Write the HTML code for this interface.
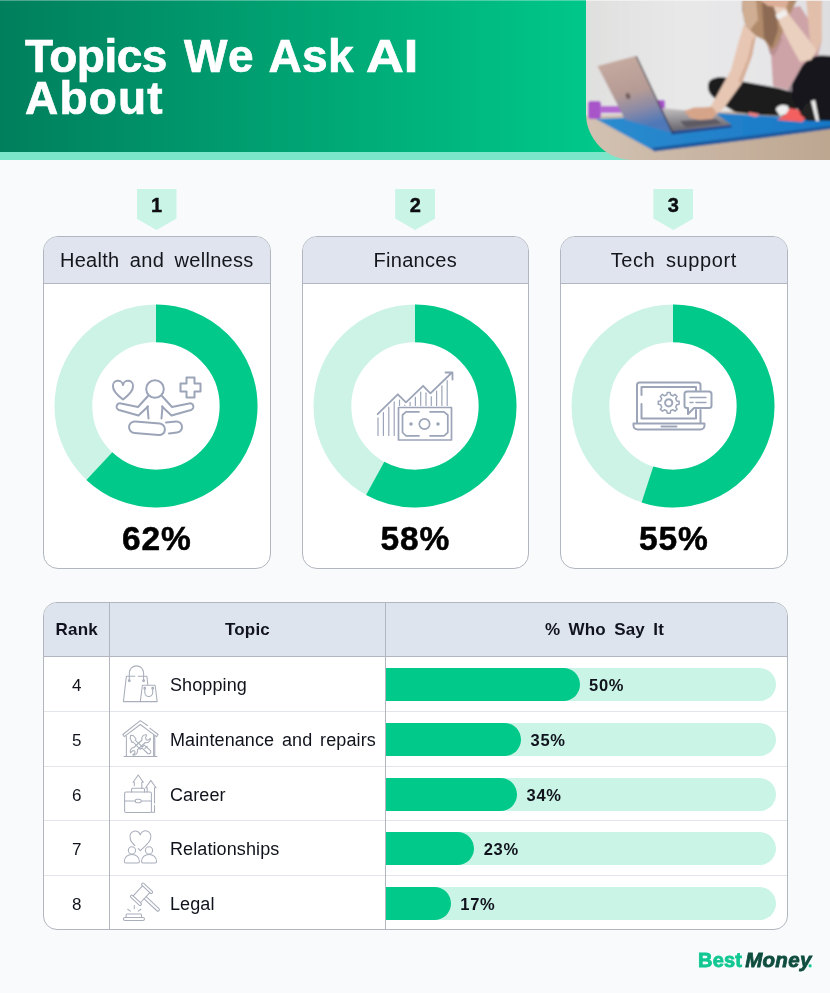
<!DOCTYPE html>
<html lang="en">
<head>
<meta charset="utf-8">
<title>Topics We Ask AI About</title>
<style>
*{box-sizing:border-box;margin:0;padding:0}
html,body{width:830px;height:993px;overflow:hidden}
body{background:#f8fafb;font-family:"Liberation Sans",sans-serif;color:#111;position:relative}
.hdr{position:absolute;left:0;top:0;width:830px;height:160px;background:#7be6c9}
.hdr .g{position:absolute;left:0;top:0;width:830px;height:152px;background:linear-gradient(90deg,#007f5d 0,#00c98a 600px)}
.hdr h1{position:absolute;left:0;top:30px;font-size:46px;line-height:52px;font-weight:700;color:#fff}
.hdr h1 span{position:absolute;white-space:nowrap;-webkit-text-stroke:0.7px #fff}
.photo{position:absolute;left:585px;top:0;width:245px;height:160px}
.tag{position:absolute;top:189px;width:40px;height:41px;background:#c9f4e6;clip-path:polygon(0 0,100% 0,100% 72%,50% 100%,0 72%);font-weight:700;font-size:20px;text-align:center;line-height:33px;color:#0d0d12;-webkit-text-stroke:0.4px #0d0d12}
.card{position:absolute;top:235.5px;width:227.5px;height:333px;background:#fff;border:1px solid #b1b6c0;border-radius:15px;overflow:hidden}
.card .ch{height:47px;background:#dfe4ee;border-bottom:1px solid #b1b6c0;text-align:center;font-size:20px;line-height:46px;color:#15151c;word-spacing:4.5px;letter-spacing:0.3px}
.card svg.d{position:absolute;left:10.4px;top:67.8px}
.card .pct{position:absolute;left:0;width:100%;top:284px;text-align:center;font-weight:700;font-size:33.5px;line-height:36px;letter-spacing:0.8px;color:#000;-webkit-text-stroke:0.5px #000}
.tbl{position:absolute;left:42.500px;top:602px;width:745.500px;height:328px;background:#fff;border:1px solid #b1b6c0;border-radius:14px;overflow:hidden}
.tbl .th{position:absolute;left:0;top:0;width:100%;height:54px;background:#dee4ee;border-bottom:1px solid #b1b6c0}
.tbl .th div{position:absolute;top:0;height:53px;line-height:53px;font-weight:700;font-size:17px;text-align:center;color:#10131c;letter-spacing:0.2px}
.tbl .v{position:absolute;top:0;width:1px;height:100%;background:#b1b6c0}
.row{position:absolute;left:0;width:100%;height:55px;border-top:1px solid #e2e5ea}
.row:nth-of-type(2){border-top-color:transparent}
.row .n{position:absolute;left:0;width:66.500px;text-align:center;line-height:57px;font-size:17px;color:#10131c}
.row .ic{position:absolute;left:78px;top:7px;width:40px;height:40px}
.row .t{position:absolute;left:126.500px;line-height:56px;font-size:18px;color:#10131c;white-space:nowrap;word-spacing:2.7px;letter-spacing:0.1px}
.row .bar{position:absolute;left:341.500px;top:10.500px;width:390.500px;height:33.500px;background:#c9f4e6;border-radius:0 17px 17px 0}
.row .bar i{position:absolute;left:0;top:0;height:100%;background:#00c98a;border-radius:0 17px 17px 0}
.row .bar b{position:absolute;top:0;line-height:34.500px;font-size:16.500px;font-weight:700;color:#10131c;letter-spacing:0.7px;margin-left:-2px}
.ov{position:absolute;left:0;top:0;pointer-events:none}
.logo{position:absolute;left:698px;top:945px;height:30px;line-height:30px;font-size:20px;font-weight:700;white-space:nowrap}
.logo .b{color:#12c792;-webkit-text-stroke:0.8px #12c792;letter-spacing:0.2px}
.logo .m{color:#0f4d3f;-webkit-text-stroke:0.8px #0f4d3f;font-style:italic;margin-left:3px;letter-spacing:0.3px;font-size:20.5px}
.logo .p{color:#12c792;-webkit-text-stroke:0.5px #12c792;margin-left:-3.5px;font-size:15px}
</style>
</head>
<body>
<div class="hdr"><div class="g"></div><div style="position:absolute;left:0;top:0;width:830px;height:1px;background:rgba(255,255,255,.3)"></div><h1><span style="left:25px;top:0;letter-spacing:-0.5px">Topics</span><span style="left:184px;top:0;letter-spacing:1.5px">We</span><span style="left:268.5px;top:0;letter-spacing:0.3px">Ask</span><span style="left:365.5px;top:0;transform-origin:0 0;transform:scaleX(1.14)">AI</span><span style="left:25px;top:42px;letter-spacing:1.2px">About</span></h1></div>
<svg class="photo" width="245" height="160" viewBox="585 0 245 160">
<defs>
<clipPath id="pc"><path d="M586 0H830V160H632.500A46.500 46.500 0 0 1 586 113.500Z"/></clipPath>
<linearGradient id="wall" x1="0" y1="0" x2="1" y2="0"><stop offset="0" stop-color="#dfdfde"/><stop offset=".4" stop-color="#e8e8e9"/><stop offset=".75" stop-color="#e6e6e8"/><stop offset="1" stop-color="#dddddf"/></linearGradient>
<linearGradient id="floor" x1="0" y1="0" x2="1" y2="0"><stop offset="0" stop-color="#d3c2b3"/><stop offset="1" stop-color="#bda690"/></linearGradient>
<linearGradient id="lid" x1="0" y1="0" x2="0.25" y2="1"><stop offset="0" stop-color="#c9ada2"/><stop offset=".55" stop-color="#b59b95"/><stop offset=".78" stop-color="#8b8aa6"/><stop offset="1" stop-color="#4f78b8"/></linearGradient>
<linearGradient id="deck" x1="0" y1="0" x2="0.15" y2="1"><stop offset="0" stop-color="#c6c2c2"/><stop offset=".45" stop-color="#9a979c"/><stop offset="1" stop-color="#66636c"/></linearGradient>
<linearGradient id="mat" x1="0" y1="0" x2="1" y2="0"><stop offset="0" stop-color="#2c8ccf"/><stop offset="1" stop-color="#1877c6"/></linearGradient>
<filter id="bl" x="-5%" y="-5%" width="110%" height="110%"><feGaussianBlur stdDeviation="0.9"/></filter>
</defs>
<g clip-path="url(#pc)"><g filter="url(#bl)">
<rect x="580" y="-5" width="255" height="170" fill="url(#wall)"/>
<path d="M580 116L700 112L835 110V165H580Z" fill="url(#floor)"/>
<!-- dumbbell -->
<rect x="588" y="101" width="13" height="18" rx="3" fill="#a755c9"/>
<rect x="600" y="106" width="24" height="7" fill="#b466d2"/>
<rect x="656" y="100" width="9" height="15" rx="2" fill="#a755c9"/>
<!-- mat -->
<path d="M596 119L640 117L716 113L835 120V128L760 138L654 151Z" fill="url(#mat)"/>
<path d="M651 148L760 134.500L835 125V128.500L760 138.500L654.500 151.500Z" fill="#1a5a9e"/>
<!-- laptop base -->
<path d="M662 108L716 113.500L731.500 125L671 131.500Z" fill="url(#deck)"/>
<path d="M671 131.500L731.500 125V127.500L672 134.500Z" fill="#27498c"/>
<path d="M680 121L716 119L722 123.500L686 127.500Z" fill="#5d5a64"/>
<!-- laptop lid -->
<path d="M597.500 66L635.500 56L672 133L625 119.500Z" fill="url(#lid)"/>
<path d="M635.500 56L637 56.500L673.500 133.500L672 133Z" fill="#2e2a33"/>
<ellipse cx="628" cy="96" rx="2.200" ry="3.200" fill="#6f5d5a" transform="rotate(-15 628 96)"/>
<!-- top -->
<path d="M766 12L800 6L822 40L818 56L802 66L788 90L773 86L771 54L766 40Z" fill="#cda3a7"/>
<path d="M766 14L776 16L782 40L774 56L770 54L766 40Z" fill="#bb8f90"/>
<path d="M788 90L802 66L806 70L793 97Z" fill="#8c7f86"/>
<!-- legs -->
<path d="M709 82C712 77 722 76 730 79L745 82L778 88L792 92L800 105L790 116L760 115L735 112L722 104L712 96C708 92 707 86 709 82Z" fill="#1b1b1d"/>
<path d="M802 66C808 58 816 55 822 55.500L835 56V121L803 120L792 98L792 84Z" fill="#19191b"/>
<!-- left arm -->
<path d="M744 24L756 36L752 56L742 83L724 108L712 118L700 119L699 110L711 106L722 86L731 70L738 44Z" fill="#e7c6b3"/>
<path d="M752 40L756 36L752 56L742 83L738 82L748 58Z" fill="#d7ae98"/>
<path d="M684 111L694 107.500L712 107L717 113L712 119L700 120L690 118Z" fill="#d6a489"/>
<!-- hair -->
<path d="M742 -2H798L790 14L782 34L776 46L771 50L764 40L756 36L746 26L742 10Z" fill="#b08a6b"/>
<path d="M742 -2H756L758 20L750 30L744 22Z" fill="#cfae93"/>
<path d="M762 2L776 4L778 30L772 48L764 38Z" fill="#8d6b52"/>
<!-- right arm -->
<path d="M772 2L786 8L790 16L817 50L811 60L800 62L790 44L780 24Z" fill="#ead0bf"/>
<path d="M806 -2H822L822 40L817 52L810 40Z" fill="#e2bfab"/>
<path d="M757 -2H790L786 8L768 6Z" fill="#dcae97"/>
<rect x="776" y="12" width="11" height="6" rx="1.500" fill="#f1efee" transform="rotate(-28 781 15)"/>
<!-- shoes -->
<path d="M776 110C776 105 784 104 788 106L790 113L780 116Z" fill="#eeeeee"/>
<path d="M790 108L798 110L806 118L802 122L777 120L786 114Z" fill="#f4605f"/>
<path d="M806 104L816 100L820 121L808 121L800 114Z" fill="#222224"/>
<path d="M811 101L815 100L819 121L816 121Z" fill="#f2f2f2"/>
<path d="M749 112L760 114L756 117L748 115Z" fill="#f08080"/>
</g><rect x="586" y="0" width="245" height="1" fill="#f4f4f4" opacity=".8"/></g>
</svg>

<div class="tag" style="left:136.5px">1</div>
<div class="tag" style="left:395.2px">2</div>
<div class="tag" style="left:653.4px">3</div>

<div class="card" style="left:43px"><div class="ch">Health and wellness</div>
<svg class="d" width="204" height="204" viewBox="-102 -102 204 204"><circle r="82.6" fill="none" stroke="#cdf3e6" stroke-width="37.8"/><circle r="82.6" fill="none" stroke="#00c98a" stroke-width="37.8" stroke-dasharray="321.4 518.4" transform="rotate(-90)"/></svg>
<div class="pct">62%</div></div>

<div class="card" style="left:301.5px"><div class="ch">Finances</div>
<svg class="d" width="204" height="204" viewBox="-102 -102 204 204"><circle r="82.6" fill="none" stroke="#cdf3e6" stroke-width="37.8"/><circle r="82.6" fill="none" stroke="#00c98a" stroke-width="37.8" stroke-dasharray="300.6 518.4" transform="rotate(-90)"/></svg>
<div class="pct">58%</div></div>

<div class="card" style="left:560px"><div class="ch" style="letter-spacing:0.6px">Tech support</div>
<svg class="d" width="204" height="204" viewBox="-102 -102 204 204"><circle r="82.6" fill="none" stroke="#cdf3e6" stroke-width="37.8"/><circle r="82.6" fill="none" stroke="#00c98a" stroke-width="37.8" stroke-dasharray="285.1 518.4" transform="rotate(-90)"/></svg>
<div class="pct">55%</div></div>

<div class="tbl">
<div class="th"><div style="left:0;width:66.5px">Rank</div><div style="left:66.5px;width:275px">Topic</div><div style="left:501.5px;text-align:left;white-space:nowrap;word-spacing:3.3px">% Who Say It</div></div>
<div class="row" style="top:53px"><div class="n">4</div><div class="ic" id="ic4"></div><div class="t">Shopping</div><div class="bar"><i style="width:194.5px"></i><b style="left:206.0px">50%</b></div></div>
<div class="row" style="top:108px"><div class="n">5</div><div class="ic" id="ic5"></div><div class="t">Maintenance and repairs</div><div class="bar"><i style="width:136.0px"></i><b style="left:147.5px">35%</b></div></div>
<div class="row" style="top:163px"><div class="n">6</div><div class="ic" id="ic6"></div><div class="t">Career</div><div class="bar"><i style="width:132.1px"></i><b style="left:143.6px">34%</b></div></div>
<div class="row" style="top:217px"><div class="n">7</div><div class="ic" id="ic7"></div><div class="t">Relationships</div><div class="bar"><i style="width:89.2px"></i><b style="left:100.7px">23%</b></div></div>
<div class="row" style="top:272px"><div class="n">8</div><div class="ic" id="ic8"></div><div class="t">Legal</div><div class="bar"><i style="width:65.8px"></i><b style="left:77.3px">17%</b></div></div>
<div class="v" style="left:65.5px"></div><div class="v" style="left:341px"></div>
</div>
<div class="logo"><span class="b">Best</span><span class="m">Money</span><span class="p">.</span></div>
<svg class="ov" width="830" height="993" viewBox="0 0 830 993" fill="none" stroke-linecap="round" stroke-linejoin="round">
<g stroke="#9ca4b8" stroke-width="2">
<!-- icon 1 meditation -->
<path d="M123 399.500C117 395 113 391 113 386.500A5 5 0 0 1 123 385A5 5 0 0 1 133 386.500C133 391 129 395 123 399.500Z"/>
<circle cx="155" cy="389" r="8.800"/>
<path d="M186.500 377.500H194.500V383.500H200.500V391.500H194.500V397.500H186.500V391.500H180.500V383.500H186.500Z"/>
<path d="M148 396L138 407L121 403.500A3.400 3.400 0 0 0 119 410L138.500 415.500L148 406.500"/>
<path d="M147.500 406.500L148.500 418.500"/>
<path d="M162 396L172 407L189 403.500A3.400 3.400 0 0 1 191 410L171.500 415.500L162 406.500"/>
<path d="M162.500 406.500L161.500 418.500"/>
<rect x="129" y="422.500" width="36" height="11.500" rx="5.750" transform="rotate(5 147 428)"/>
<path d="M166 422.500L176 421.500A5.500 5.500 0 0 1 177 432.500L169 433.500"/>
</g>
<g stroke="#9ca4b8" stroke-width="1.700">
<!-- icon 2 finance -->
<rect x="398.500" y="407.500" width="53" height="32.500"/>
<path d="M419 411.800H406L402.500 415V432.500L406 435.800H419M430 411.800H444L447.800 415V432.500L444 435.800H430"/>
<circle cx="424.500" cy="424" r="5.200"/>
<circle cx="411" cy="424" r="0.900" fill="#9aa3b8"/><circle cx="438" cy="424" r="0.900" fill="#9aa3b8"/>
<path d="M377.600 414.200L397.800 394.300L406 402.400L423.100 385.800L430.400 393.400L452 372.500M445.500 372.500H452.500V379.500" stroke-width="1.800"/>
<path d="M378 417.8V435.500M383.4 412.5V435.500M388.8 407.2V435.500M394.2 401.8V435.500M399.5 400.0V405.500M404.8 405.2V405.500M410.1 402.4V405.500M415.4 397.3V405.500M420.7 392.1V405.500M426.0 392.8V405.500M431.3 396.5V405.500M436.6 391.2V405.500M441.9 385.8V405.500M447.2 380.5V405.500" stroke-width="1.200"/>
</g>
<g stroke="#9ca4b8" stroke-width="2">
<!-- icon 3 laptop -->
<path d="M637 423V385A2.500 2.500 0 0 1 639.500 382.500H698A2.500 2.500 0 0 1 700.500 385V390"/>
<path d="M700.500 410V423"/>
<path d="M641.500 395V387H696V391M696 410V418.500H641.500V404"/>
<path d="M633.500 423.500H704.500V425.500A4 4 0 0 1 700.500 429.500H637.500A4 4 0 0 1 633.500 425.500Z"/>
<path d="M661.500 426.500H676.500"/>
<path d="M679.1 401.3L679.1 404.3L676.7 404.7L675.7 407.1L677.1 409.1L675.0 411.2L673.0 409.8L670.6 410.8L670.2 413.2L667.2 413.2L666.8 410.8L664.4 409.8L662.4 411.2L660.3 409.1L661.7 407.1L660.7 404.7L658.3 404.3L658.3 401.3L660.7 400.9L661.7 398.5L660.3 396.5L662.4 394.4L664.4 395.8L666.8 394.8L667.2 392.4L670.2 392.4L670.6 394.8L673.0 395.8L675.0 394.4L677.1 396.5L675.7 398.5L676.7 400.9Z" stroke-width="1.500"/>
<circle cx="668.700" cy="402.800" r="3.600"/>
<path d="M687 391.500H709A2.500 2.500 0 0 1 711.500 394V405.500A2.500 2.500 0 0 1 709 408H694L688 414V408H687A2.500 2.500 0 0 1 684.500 405.500V394A2.500 2.500 0 0 1 687 391.500Z" fill="#fff"/>
<path d="M690 397.500H706M690 402.500H693M696 402.500H706" stroke-width="1.400"/>
</g>
<g stroke="#a9aebb" stroke-width="1.050">
<!-- shopping -->
<path d="M134.800 676.300H126.400L123.400 701.600H140.300M138.200 676.300H146.900L147.800 684.800"/>
<path d="M129.300 680.500V673A7.150 7.150 0 0 1 143.600 673V680.500"/>
<circle cx="129.300" cy="680.800" r="0.900"/><circle cx="143.600" cy="680.800" r="0.900"/>
<path d="M142.400 685.300H155.100L157.200 701.600H140.300Z"/>
<path d="M144.800 688.500V692.500A3.950 3.950 0 0 0 152.700 692.500V688.500"/>
<circle cx="144.800" cy="688.300" r="0.900"/><circle cx="152.700" cy="688.300" r="0.900"/>
<!-- house tools -->
<path d="M147.500 725.500L140.300 720.600L122.800 734.500L124.300 736.600L140.300 724.500L156.600 736.600L158.100 734.500L149.800 728.200"/>
<path d="M126.400 736V756.300M153.600 735V756.300M154.800 736V756.300M124 756.500H157"/>
<path d="M130.700 735.300L133.500 735.800L136 739L135.200 740.200L142.500 746.800L144.300 745.200L150.500 750.700A2 2 0 0 1 147.800 753.500L141.800 747.800L140.200 749.300L133.200 742L132 742.500L130.200 738.200Z"/>
<path d="M144.800 748.600L147.300 746.300"/>
<path d="M146.500 734.800A3.900 3.900 0 0 0 142 740L133.800 747.500A3.900 3.900 0 0 0 130.500 752.800L132.800 750.600L134.800 751L135 753L132.800 755A3.900 3.900 0 0 0 137.300 749.800L145.300 742.500A3.900 3.900 0 0 0 150.400 738.300L148 740.200L146 739.800L145.700 737.800Z"/>
<!-- career -->
<rect x="124.600" y="791.900" width="26.800" height="20.500" rx="1.500"/>
<path d="M124.600 800.900H135.200M141.200 800.900H151.400"/>
<rect x="135.200" y="799.200" width="6" height="3.600" rx="1.800"/>
<path d="M131.600 791.900V789.300A1 1 0 0 1 132.600 788.300H143.500A1 1 0 0 1 144.500 789.300V791.900"/>
<path d="M134.300 785.600V782.300H133.100L138.200 775L143.300 782.300H141.800V788.300"/>
<path d="M147.200 791.900V787.700H145.700L150.800 780.400L156 787.700H154.500V803M154.500 805.500V812.200H151.400"/>
<!-- relationships -->
<path d="M134.800 845.500C131.800 842.800 130.100 840.500 130.100 837.500A4.950 4.950 0 0 1 140.300 835A4.950 4.950 0 0 1 150.800 837.500C150.800 842 145 846 140.300 850.700L138.200 848.600"/>
<circle cx="131.900" cy="850.400" r="3.600"/><circle cx="149" cy="850.400" r="3.600"/>
<path d="M124.300 861.600C124.300 857.500 127.500 854.400 131.900 854.400S139.400 857.500 139.400 861.600C139.400 862.500 138.800 863 138 863H125.700C124.900 863 124.300 862.500 124.300 861.600Z"/>
<path d="M141.500 861.600C141.500 857.500 144.700 854.400 149 854.400S156.600 857.500 156.600 861.600C156.600 862.500 156 863 155.200 863H142.900C142.100 863 141.500 862.500 141.500 861.600Z"/>
<!-- legal -->
<g transform="translate(141.500 894.300) rotate(43)">
<rect x="-7" y="-9.500" width="14" height="2.600" rx="1.300"/>
<rect x="-7" y="6.900" width="14" height="2.600" rx="1.300"/>
<path d="M-5 -6.900V6.900M5 -6.900V6.900"/>
<path d="M5 -1.500H22.500A1.500 1.500 0 0 1 22.500 1.500H5"/>
</g>
<path d="M134.300 905.400V908.700M127.700 909.300L130.400 911.100M140.900 909.300L138.200 911.100"/>
<path d="M126.100 917.300V915A1 1 0 0 1 127.100 914H140.500A1 1 0 0 1 141.500 915V917.300"/>
<rect x="123.400" y="917.400" width="21.100" height="3.100" rx="1.550"/>
</g>
</svg>
</body>
</html>
